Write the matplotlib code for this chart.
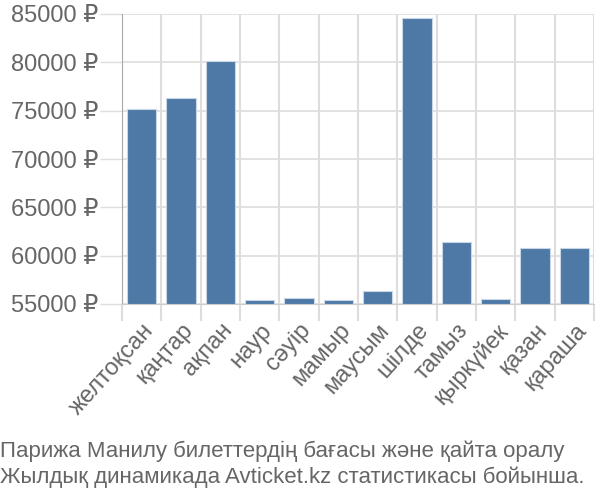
import matplotlib
matplotlib.use('Agg')
import matplotlib.pyplot as plt
import numpy as np

plt.rcParams['font.family'] = ['Liberation Sans', 'DejaVu Sans']

months = ['желтоқсан', 'қаңтар', 'ақпан', 'наур', 'сәуір', 'мамыр',
          'маусым', 'шілде', 'тамыз', 'қыркүйек', 'қазан', 'қараша']
prices = [75150, 76300, 80100, 55380, 55600, 55380,
          56300, 84600, 61450, 55550, 60750, 60750]
yticks = [55000, 60000, 65000, 70000, 75000, 80000, 85000]
caption = ('Парижа Манилу билеттердің бағасы және қайта оралу\n'
           'Жылдық динамикада Avticket.kz статистикасы бойынша.')

bar_color = '#4e79a7'
grid_color = '#dddddd'
text_color = '#666666'
ymin = 55000

fig = plt.figure(figsize=(6, 5), dpi=100)
ax = fig.add_axes([0.2033, 0.392, 0.7867, 0.58])

x = np.arange(len(months))
ax.bar(x, np.array(prices) - ymin, bottom=ymin, width=0.74,
       color=bar_color, edgecolor='#c8d6e5', linewidth=0.8, zorder=3)

ax.set_xlim(-0.5, len(months) - 0.5)
ax.set_ylim(ymin, 85000)

ax.set_yticks(yticks)
ax.set_yticklabels([f'{v} ₽' for v in yticks], fontsize=17, color=text_color)
ax.tick_params(axis='y', length=16, color=grid_color, width=1, pad=1)

ax.set_xticks(x)
ax.set_xticklabels(months, rotation=48, ha='right', rotation_mode='anchor',
                   fontsize=17, color=text_color)
ax.set_xticks(np.arange(-0.5, len(months)), minor=True)
ax.tick_params(axis='x', which='major', length=0, pad=11)
ax.tick_params(axis='x', which='minor', length=12, color=grid_color, width=1.5)

ax.grid(axis='y', color=grid_color, linewidth=1.2, zorder=0)
ax.grid(axis='x', which='minor', color=grid_color, linewidth=1.5, zorder=0)

for side in ['top', 'right']:
    ax.spines[side].set_visible(False)
ax.spines['bottom'].set_color('#cccccc')
ax.spines['left'].set_color('#aaaaaa')
ax.spines['left'].set_bounds(ymin, 85000)

fig.text(0.0, 0.024, caption, fontsize=16, color=text_color,
         ha='left', va='bottom', linespacing=1.3)

fig.savefig('out.png', dpi=100)
